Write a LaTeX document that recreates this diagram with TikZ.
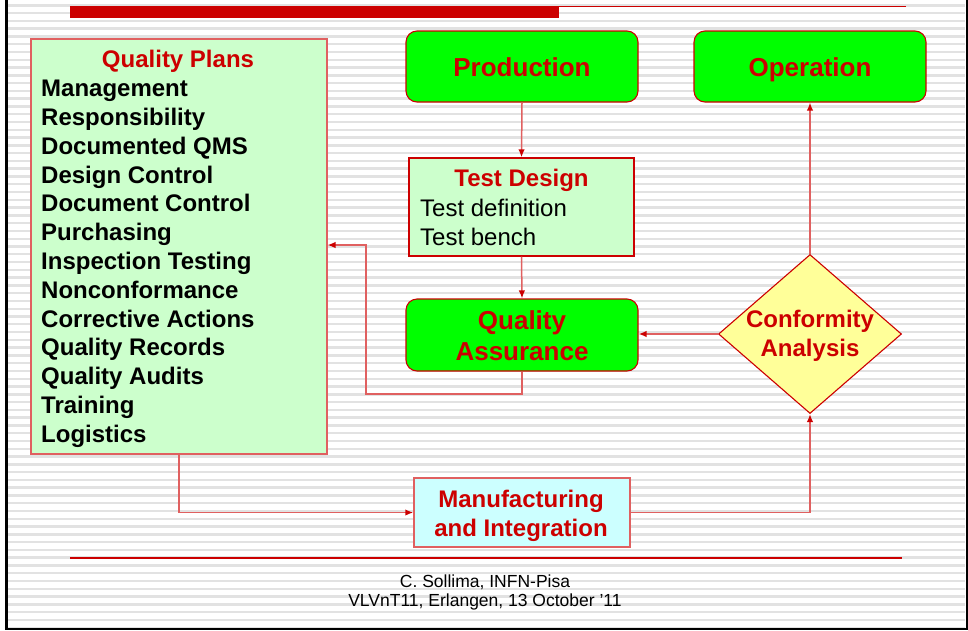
\documentclass[tikz,border=0pt]{standalone}
\usepackage{fontspec}
\setmainfont{Liberation Sans}
\usetikzlibrary{shapes.geometric,arrows.meta}
\definecolor{dred}{HTML}{CC0000}
\definecolor{lred}{HTML}{E06060}
\definecolor{lgreen}{HTML}{CCFFCC}
\definecolor{bgreen}{HTML}{00FF00}
\definecolor{lyellow}{HTML}{FFFF99}
\definecolor{lcyan}{HTML}{CCFFFF}
\definecolor{stripecol}{HTML}{E2E2E2}
\begin{document}
\begin{tikzpicture}[x=1pt,y=-1pt,
  bigtxt/.style={font=\fontsize{26}{30}\selectfont\bfseries, text=dred, anchor=base, inner sep=0},
  medtxt/.style={font=\fontsize{24}{28}\selectfont\bfseries, text=dred, anchor=base, inner sep=0},
  itemtxt/.style={font=\fontsize{24}{28}\selectfont\bfseries, text=black, anchor=base west, inner sep=0},
  plaintxt/.style={font=\fontsize{24}{28}\selectfont, text=black, anchor=base west, inner sep=0},
  foottxt/.style={font=\fontsize{17.5}{20}\selectfont, text=black, anchor=base, inner sep=0},
  greenbox/.style={draw=dred, line width=1.1, fill=bgreen, rounded corners=11, minimum width=232, minimum height=71, inner sep=0},
  lightbox/.style={draw=lred, line width=1.5, fill=lgreen, inner sep=0, anchor=north west},
  conn/.style={draw=lred, line width=1.5, -{Latex[length=8pt,width=6.5pt,color=dred]}},
]
\useasboundingbox (0,0) rectangle (968,630);
% striped background
\foreach \i in {0,...,80}
  \draw[stripecol, line width=2.4] (8,{5.3+7.78*\i}) -- (965,{5.3+7.78*\i});
% frame
\fill[black] (5,0) rectangle (8,630);
\fill[black] (5,627.6) rectangle (968,630);
\fill[black] (965.5,0) rectangle (968,630);
% title bar and rules
\fill[dred] (70,6) rectangle (559,17.7);
\draw[dred, line width=1.3] (559,6.5) -- (906,6.5);
\draw[dred, line width=1.3] (70,558) -- (902,558);

% Quality plans box
\node[lightbox, minimum width=296, minimum height=415] (qp) at (30,38) {};
\node[medtxt] (qpt) at (178,67) {Quality Plans};
\foreach \t [count=\k] in {Management,Responsibility,Documented QMS,Design Control,Document Control,Purchasing,Inspection Testing,Nonconformance,Corrective Actions,Quality Records,Quality Audits,Training,Logistics}
  \node[itemtxt] (qp\k) at (41,{96.7+28.8*(\k-1)}) {\t};

% Production / Operation
\node[greenbox] (prod) at (522,66.5) {};
\node[bigtxt] (prodt) at (522,76) {Production};
\node[greenbox] (op) at (810,66.5) {};
\node[bigtxt] (opt) at (810,76) {Operation};

% Test design
\node[draw=dred, line width=1.3, fill=lgreen, minimum width=225, minimum height=98, inner sep=0] (td) at (521.5,207) {};
\node[medtxt] (tdt) at (521.5,186.7) {Test Design};
\node[plaintxt] (td1) at (420,216) {Test definition};
\node[plaintxt] (td2) at (420,245) {Test bench};

% Quality assurance
\node[greenbox, minimum height=72] (qa) at (522,335) {};
\node[bigtxt] (qa1) at (522,329) {Quality};
\node[bigtxt] (qa2) at (522,360) {Assurance};

% Conformity analysis
\node[diamond, draw=dred, line width=1.1, fill=lyellow, minimum width=183, minimum height=159, inner sep=0] (conf) at (810,334) {};
\node[medtxt] (conf1) at (810,327) {Conformity};
\node[medtxt] (conf2) at (810,356) {Analysis};

% Manufacturing
\node[draw=lred, line width=1.5, fill=lcyan, minimum width=216, minimum height=69, inner sep=0] (mi) at (522,512.5) {};
\node[medtxt] (mi1) at (521,507) {Manufacturing};
\node[medtxt] (mi2) at (521,536) {and Integration};

% footer
\node[foottxt] (f1) at (485,587) {C. Sollima, INFN-Pisa};
\node[foottxt] (f2) at (485,606.5) {VLVnT11, Erlangen, 13 October '11};

% connectors
\coordinate (c1) at (366,394);
\coordinate (c2) at (366,245);
\draw[conn] (prod.south) -- (td.north);
\draw[conn] (td.south) -- (qa.north);
\draw[conn] (conf.west) -- (qa.east |- conf.west);
\draw[conn] (conf.north) -- (op.south);
\draw[conn] (qa.south) |- (c1) -- (c2) -- (c2 -| qp.east);
\draw[conn] (qp.south) |- (mi.west);
\draw[conn] (mi.east) -| (conf.south);
\end{tikzpicture}
\end{document}
